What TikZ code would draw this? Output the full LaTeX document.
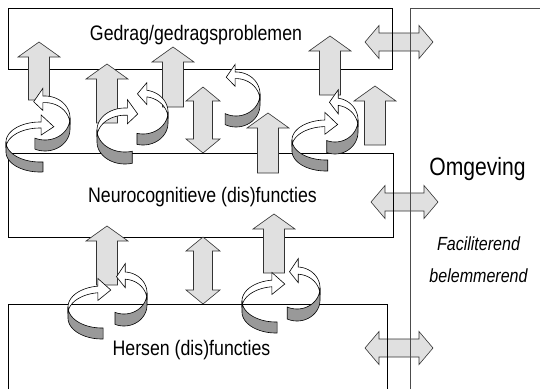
\documentclass[tikz,border=0pt]{standalone}
\usepackage{fontspec}
\setmainfont[FakeStretch=0.845]{Liberation Sans}
\usetikzlibrary{positioning}

\newcommand{\uarr}[3]{%
  \draw[blockarrow] ({#1-10.5},#3) -- ({#1-10.5},{#2+15}) -- ({#1-21},{#2+15}) -- (#1,#2)
    -- ({#1+21},{#2+15}) -- ({#1+10.5},{#2+15}) -- ({#1+10.5},#3) -- cycle;}
\newcommand{\varr}[3]{%
  \draw[blockarrow] (#1,#2) -- ({#1+17},{#2+14}) -- ({#1+9.5},{#2+14}) -- ({#1+9.5},{#3-14})
    -- ({#1+17},{#3-14}) -- (#1,#3) -- ({#1-17},{#3-14}) -- ({#1-9.5},{#3-14})
    -- ({#1-9.5},{#2+14}) -- ({#1-17},{#2+14}) -- cycle;}
\newcommand{\harr}[3]{%
  \draw[blockarrow] (#2,#1) -- ({#2+14},{#1-16.5}) -- ({#2+14},{#1-9}) -- ({#3-14},{#1-9})
    -- ({#3-14},{#1-16.5}) -- (#3,#1) -- ({#3-14},{#1+16.5}) -- ({#3-14},{#1+9})
    -- ({#2+14},{#1+9}) -- ({#2+14},{#1+16.5}) -- cycle;}
\newcommand{\ring}[8]{%
  \pgfmathsetmacro{\rtip}{#7+ifthenelse(#7>#6,22,-22)}%
  \draw[ringback] plot[domain=#6:#7,samples=25] ({#1+#3*cos(\x)},{#2-#4*sin(\x)})
    -- ({#1+#3*cos(#7)},{#2-#4*sin(#7)-0.7*#8})
    -- ({#1+#3*cos(\rtip)},{#2-#4*sin(\rtip)+0.3*#8})
    -- ({#1+#3*cos(#7)},{#2-#4*sin(#7)+1.3*#8})
    -- plot[domain=#7:#6,samples=25] ({#1+#3*cos(\x)},{#2-#4*sin(\x)+0.6*#8}) -- cycle;
  \draw[ringfront] plot[domain=#5:#6,samples=25] ({#1+#3*cos(\x)},{#2-#4*sin(\x)})
    -- plot[domain=#6:#5,samples=25] ({#1+#3*cos(\x)},{#2-#4*sin(\x)+#8}) -- cycle;}

\begin{document}
\begin{tikzpicture}[x=1pt,y=-1pt,
                    box/.style={draw=black,line width=1pt},
                    env/.style={draw=black!70,line width=1pt},
                    blockarrow/.style={draw=black!80,fill=black!12,line width=0.6pt},
                    ringfront/.style={draw=black,fill=black!40,line width=0.6pt},
                    ringback/.style={draw=black,fill=white,line width=0.6pt},
                    lbl/.style={inner sep=0pt,anchor=base,font=\fontsize{21}{24}\selectfont}]

\useasboundingbox (0,0) rectangle (540,389);

\harr{42}{365}{433}
\harr{202}{371}{438}
\harr{348}{365}{433}

\draw[box] (8,8) rectangle (392,69);
\draw[box] (8,153) rectangle (393,237);
\draw[box] (8,389) -- (8,304) -- (387,304) -- (387,389);
\draw[env] (410,389) -- (410,8) -- (540,8);

\uarr{39}{42}{100}
\uarr{107}{64}{123}
\uarr{173}{47}{107}
\uarr{268}{113}{173}
\uarr{330}{36}{95}
\uarr{375}{86}{145}
\uarr{107}{226}{285}
\uarr{274}{214}{273}
\varr{203}{87}{153}
\varr{203}{237}{304}

\ring{40}{142}{34}{20}{275}{180}{88}{10}
\ring{45}{118}{25}{22}{246}{360}{455}{11}
\ring{125}{130}{28}{22}{285}{180}{85}{12}
\ring{143}{112}{25}{22}{256}{360}{441}{11}
\ring{236}{94}{24}{22}{243}{360}{452}{11}
\ring{326}{140}{34}{20}{273}{180}{92}{11}
\ring{335}{120}{23}{22}{249}{360}{442}{12}
\ring{102}{307}{34}{21}{272}{180}{97}{11}
\ring{124}{293}{23}{21}{247}{360}{447}{12}
\ring{276}{301}{34}{21}{272}{180}{97}{11}
\ring{297}{288}{23}{21}{245}{360}{447}{12}

\node[lbl] (gedrag) at (196,40) {Gedrag/gedragsproblemen};
\node[lbl] (neuro) at (202.5,202) {Neurocognitieve (dis)functies};
\node[lbl] (hersen) at (191.5,355) {Hersen (dis)functies};
\node[lbl,font=\fontsize{25}{28}\selectfont] (omgeving) at (477.5,175) {Omgeving};
\node[lbl,font=\fontsize{19}{22}\selectfont\itshape] (faciliterend) at (478.5,250) {Faciliterend};
\node[lbl,font=\fontsize{19}{22}\selectfont\itshape] (belemmerend) at (478.5,282) {belemmerend};

\end{tikzpicture}
\end{document}
